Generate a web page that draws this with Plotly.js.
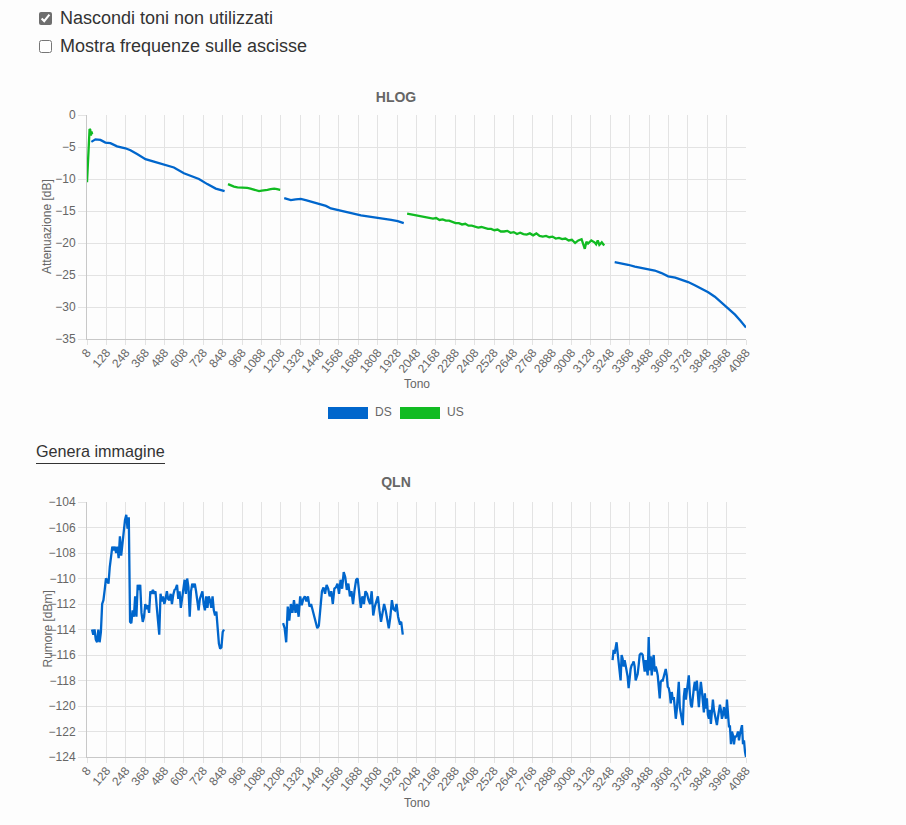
<!DOCTYPE html>
<html><head><meta charset="utf-8">
<script src="https://cdn.plot.ly/plotly-3.0.1.min.js"></script>
<style>
html,body{margin:0;padding:0;background:#fdfdfd;}
body{width:906px;height:825px;overflow:hidden;position:relative;font-family:"Liberation Sans",Arial,sans-serif;}
.cb{position:absolute;left:39px;font-size:18px;color:#333;display:flex;align-items:center;height:20px;}
.cb input{margin:0 8px 0 0;width:13px;height:13px;accent-color:#6e6e6e;}
#c1{position:absolute;left:0;top:80px;width:906px;height:340px;}
#c2{position:absolute;left:0;top:470px;width:906px;height:355px;}
.lg{position:absolute;top:405px;height:14px;font-size:12px;color:#666;line-height:14px;}
.box{position:absolute;top:407px;width:40px;height:12px;}
#gen{position:absolute;left:36px;top:441px;font-size:16.2px;line-height:20px;color:#333;padding-bottom:2px;border-bottom:1px solid #333;}
</style></head>
<body>
<div class="cb" style="top:8px"><input type="checkbox" checked>Nascondi toni non utilizzati</div>
<div class="cb" style="top:36px"><input type="checkbox">Mostra frequenze sulle ascisse</div>
<div id="c1"></div>
<div class="box" style="left:328px;background:#0066cc"></div><div class="lg" style="left:375px">DS</div>
<div class="box" style="left:400px;background:#11bb22"></div><div class="lg" style="left:447px">US</div>
<div id="gen">Genera immagine</div>
<div id="c2"></div>
<script>
// ---------- axis ticks ----------
const tickTones = [8,128,248,368,488,608,728,848,968,1088,1208,1328,1448,1568,1688,1808,1928,2048,2168,2288,2408,2528,2648,2768,2888,3008,3128,3248,3368,3488,3608,3728,3848,3968,4088];
const tickLabels = ["8","128","248","368","488","608","728","848","968","1088","1208","1328","1448","1568","1688","1808","1928","2048","2168","2288","2408","2528","2648","2768","2888","3008","3128","3248","3368","3488","3608","3728","3848","3968","4088"];

// ---------- HLOG DS ----------
const hlogDs1Tones = [35,60,91,122,153,194,246,277,318,370,422,484,546,608,649,701,753,805,860];
const hlogDs1Vals  = [-4.2,-3.8,-3.9,-4.3,-4.4,-4.9,-5.2,-5.5,-6.1,-6.9,-7.3,-7.8,-8.2,-9.1,-9.5,-10.0,-10.8,-11.5,-11.9];
const hlogDs2Tones = [1229,1250,1270,1300,1332,1362,1394,1425,1456,1487,1518,1549,1580,1611,1642,1673,1704,1735,1767,1798,1829,1860,1891,1932,1969];
const hlogDs2Vals  = [-13.0,-13.2,-13.3,-13.2,-13.1,-13.3,-13.5,-13.7,-13.9,-14.2,-14.6,-14.8,-15.0,-15.2,-15.4,-15.6,-15.7,-15.8,-15.9,-16.0,-16.1,-16.3,-16.4,-16.6,-16.9];
const hlogDs3Tones = [3275,3320,3358,3400,3440,3480,3523,3565,3606,3650,3689,3730,3771,3810,3854,3895,3937,3980,4020,4055,4088];
const hlogDs3Vals  = [-23.0,-23.2,-23.4,-23.7,-23.9,-24.1,-24.3,-24.7,-25.2,-25.4,-25.7,-26.1,-26.6,-27.1,-27.7,-28.4,-29.3,-30.2,-31.2,-32.2,-33.2];

// ---------- HLOG US ----------
const hlogUs1Tones = [8,12,16,20,24,28,32,36,40];
const hlogUs1Vals  = [-10.5,-8.5,-4.5,-2.8,-2.2,-2.3,-3.2,-2.6,-3.0];
const hlogUs2Tones = [881,900,918,940,960,980,1000,1020,1042,1060,1073,1090,1110,1125,1145,1167,1185,1204];
const hlogUs2Vals  = [-10.8,-11.0,-11.2,-11.3,-11.3,-11.4,-11.4,-11.5,-11.7,-11.8,-11.9,-11.8,-11.8,-11.7,-11.6,-11.5,-11.6,-11.7];
const hlogUs3Tones = [1990,2010,2030,2050,2070,2090,2110,2130,2150,2170,2190,2210,2230,2250,2270,2290,2310,2330,2350,2370,2390,2410,2430,2450,2470,2490,2510,2530,2550,2570,2590,2610,2630,2650,2670,2690,2710,2730,2750,2770,2790,2810,2830,2850,2870,2890,2910,2930,2950,2970,2990,3010,3030,3050,3070,3080,3090,3100,3110,3130,3150,3160,3170,3180,3195,3210];
const hlogUs3Vals  = [-15.4,-15.5,-15.6,-15.6,-15.8,-15.8,-16.0,-16.0,-16.2,-16.1,-16.4,-16.3,-16.5,-16.5,-16.7,-16.9,-16.9,-17.1,-17.0,-17.3,-17.3,-17.4,-17.6,-17.5,-17.7,-17.8,-17.8,-18.0,-17.9,-18.2,-18.2,-18.1,-18.4,-18.3,-18.6,-18.4,-18.6,-18.7,-18.5,-18.8,-18.5,-18.9,-19.0,-18.9,-19.1,-19.0,-19.3,-19.2,-19.4,-19.3,-19.6,-19.5,-20.0,-19.6,-19.4,-20.2,-20.9,-19.8,-20.1,-19.6,-19.9,-20.2,-19.6,-20.3,-19.9,-20.4];

// ---------- QLN (evenly sampled tones between first and last tone) ----------
const qln1First = 39, qln1Last = 856;
const qln1Vals = [-114.0,-114.4,-114.0,-114.8,-115.0,-114.0,-115.0,-114.2,-112.0,-111.7,-110.9,-110.0,-110.1,-110.4,-109.1,-108.3,-107.5,-107.8,-107.5,-108.0,-107.5,-108.4,-106.7,-108.2,-107.3,-106.0,-105.4,-105.0,-106.1,-105.2,-113.4,-113.5,-112.5,-113.0,-111.4,-113.0,-110.5,-110.9,-110.5,-112.7,-113.4,-113.0,-112.0,-112.4,-112.1,-112.7,-111.0,-111.2,-110.9,-111.2,-111.0,-112.2,-113.4,-114.4,-111.2,-111.8,-111.4,-112.0,-111.6,-111.0,-111.6,-111.7,-111.2,-112.0,-111.3,-110.9,-110.8,-110.5,-111.6,-111.0,-112.3,-111.4,-110.8,-110.1,-111.2,-110.0,-110.7,-113.0,-111.0,-110.4,-110.7,-110.4,-111.0,-111.6,-112.5,-111.6,-111.3,-111.0,-112.0,-112.5,-111.4,-112.3,-111.4,-111.7,-112.3,-111.4,-112.5,-112.9,-112.6,-113.8,-115.1,-115.5,-115.4,-114.2,-114.0];
const qln2First = 1222, qln2Last = 1963;
const qln2Vals = [-113.5,-113.9,-115.0,-112.2,-113.3,-112.0,-112.7,-111.7,-112.7,-112.0,-113.0,-111.4,-112.1,-111.6,-111.4,-111.8,-111.4,-112.2,-112.0,-112.5,-113.0,-113.4,-113.9,-113.7,-112.6,-111.0,-110.7,-111.2,-110.5,-110.8,-111.4,-111.0,-112.0,-110.8,-110.7,-110.4,-111.2,-110.1,-110.8,-109.5,-109.9,-110.9,-110.4,-111.4,-111.0,-112.0,-110.9,-110.1,-110.0,-111.0,-112.3,-111.4,-112.0,-111.0,-111.2,-111.7,-112.0,-111.0,-112.9,-112.2,-111.7,-111.4,-112.5,-113.4,-112.7,-112.0,-112.5,-113.1,-113.9,-113.0,-111.7,-112.4,-112.5,-112.0,-113.0,-113.5,-113.4,-114.4];
const qln3First = 3262, qln3Last = 4088;
const qln3Vals = [-116.4,-115.6,-115.9,-115.4,-115.0,-115.8,-116.7,-117.1,-118.0,-116.0,-116.3,-116.9,-116.4,-116.8,-117.3,-117.7,-118.6,-117.7,-117.1,-116.8,-116.7,-116.5,-116.9,-118.0,-117.7,-117.5,-116.8,-116.0,-115.9,-115.9,-116.0,-116.8,-117.3,-116.4,-117.2,-117.6,-114.6,-117.2,-116.1,-117.6,-116.5,-116.0,-117.3,-116.9,-117.2,-117.6,-118.5,-119.4,-118.1,-118.0,-118.0,-117.7,-117.3,-117.1,-117.6,-118.5,-118.6,-119.0,-119.8,-118.9,-119.5,-119.3,-120.1,-121.0,-120.3,-119.3,-118.1,-120.1,-120.7,-121.3,-121.5,-119.3,-118.6,-119.5,-118.9,-118.6,-117.6,-119.0,-119.9,-120.1,-119.2,-118.6,-118.1,-118.8,-118.0,-118.8,-120.1,-119.0,-118.1,-118.8,-119.8,-120.5,-119.0,-120.2,-119.4,-120.7,-121.0,-120.3,-121.4,-120.5,-119.5,-120.3,-120.7,-121.1,-121.5,-120.9,-120.5,-119.9,-120.3,-121.0,-120.7,-120.1,-120.6,-121.0,-119.5,-121.0,-121.6,-121.6,-123.0,-122.0,-122.3,-123.0,-122.4,-122.4,-122.3,-122.0,-122.7,-122.2,-121.9,-121.5,-123.0,-122.7,-123.6,-124.0];

// ---------- helpers ----------
function evenTones(first, last, n){ const out=[]; for(let i=0;i<n;i++) out.push(first + (last-first)*i/(n-1)); return out; }
function joinSegs(segs){ const x=[],y=[]; segs.forEach((s,i)=>{ if(i>0){x.push(null);y.push(null);} x.push(...s[0]); y.push(...s[1]); }); return {x,y}; }

const DS_COLOR = '#0066cc', US_COLOR = '#11bb22';
const FONT = '"Liberation Sans", Arial, sans-serif';
const GRID = '#e3e3e3';

function xAxis(){ return {range:[8,4088], tickmode:'array', tickvals:tickTones, ticktext:tickLabels, tickangle:-50,
  showgrid:true, gridcolor:GRID, gridwidth:1, ticks:'outside', ticklen:5, tickcolor:GRID, ticklabelstandoff:-4, showline:true, linecolor:'#c8c8c8',
  zeroline:false, tickfont:{size:12,color:'#666',family:FONT}, fixedrange:true}; }
function yAxis(r, d){ return {range:r, dtick:d, tick0:0, showgrid:true, gridcolor:GRID, ticks:'outside', ticklen:8, tickcolor:GRID,
  showline:true, linecolor:'#c8c8c8', zeroline:false, tickfont:{size:12,color:'#666',family:FONT}, fixedrange:true}; }

// ---------- HLOG ----------
const ds = joinSegs([[hlogDs1Tones,hlogDs1Vals],[hlogDs2Tones,hlogDs2Vals],[hlogDs3Tones,hlogDs3Vals]]);
const us = joinSegs([[hlogUs1Tones,hlogUs1Vals],[hlogUs2Tones,hlogUs2Vals],[hlogUs3Tones,hlogUs3Vals]]);
Plotly.newPlot('c1', [
  {x:ds.x, y:ds.y, type:'scatter', mode:'lines', name:'DS', line:{color:DS_COLOR,width:2.3}, connectgaps:false},
  {x:us.x, y:us.y, type:'scatter', mode:'lines', name:'US', line:{color:US_COLOR,width:2.3}, connectgaps:false}
], {
  width:906, height:340, margin:{l:87,r:160,t:35,b:81},
  paper_bgcolor:'rgba(0,0,0,0)', plot_bgcolor:'rgba(0,0,0,0)', showlegend:false,
  font:{family:FONT,color:'#666'},
  title:{text:'<b>HLOG</b>', font:{size:14,color:'#666',family:FONT}, xref:'container', x:396/906, xanchor:'center', yref:'container', y:1-17/340, yanchor:'middle'},
  xaxis:xAxis(), yaxis:yAxis([-35,0],5),
  annotations:[
    {text:'Attenuazione [dB]', xref:'paper', yref:'paper', x:0, y:0.5, xshift:-40, textangle:-90, showarrow:false, font:{size:12,color:'#666',family:FONT}, xanchor:'center', yanchor:'middle'},
    {text:'Tono', xref:'paper', yref:'paper', x:0.5, y:0, yshift:-45, showarrow:false, font:{size:12,color:'#666',family:FONT}, xanchor:'center', yanchor:'middle'}
  ]
}, {displayModeBar:false, staticPlot:true});

// ---------- QLN ----------
const q = joinSegs([
  [evenTones(qln1First,qln1Last,qln1Vals.length), qln1Vals],
  [evenTones(qln2First,qln2Last,qln2Vals.length), qln2Vals],
  [evenTones(qln3First,qln3Last,qln3Vals.length), qln3Vals]
]);
Plotly.newPlot('c2', [
  {x:q.x, y:q.y, type:'scatter', mode:'lines', name:'DS', line:{color:DS_COLOR,width:2.3}, connectgaps:false}
], {
  width:906, height:355, margin:{l:87,r:160,t:31.5,b:68},
  paper_bgcolor:'rgba(0,0,0,0)', plot_bgcolor:'rgba(0,0,0,0)', showlegend:false,
  font:{family:FONT,color:'#666'},
  title:{text:'<b>QLN</b>', font:{size:14,color:'#666',family:FONT}, xref:'container', x:396/906, xanchor:'center', yref:'container', y:1-12/355, yanchor:'middle'},
  xaxis:xAxis(), yaxis:yAxis([-124,-104],2),
  annotations:[
    {text:'Rumore [dBm]', xref:'paper', yref:'paper', x:0, y:0.5, xshift:-40, textangle:-90, showarrow:false, font:{size:12,color:'#666',family:FONT}, xanchor:'center', yanchor:'middle'},
    {text:'Tono', xref:'paper', yref:'paper', x:0.5, y:0, yshift:-46, showarrow:false, font:{size:12,color:'#666',family:FONT}, xanchor:'center', yanchor:'middle'}
  ]
}, {displayModeBar:false, staticPlot:true});
</script>
</body></html>
